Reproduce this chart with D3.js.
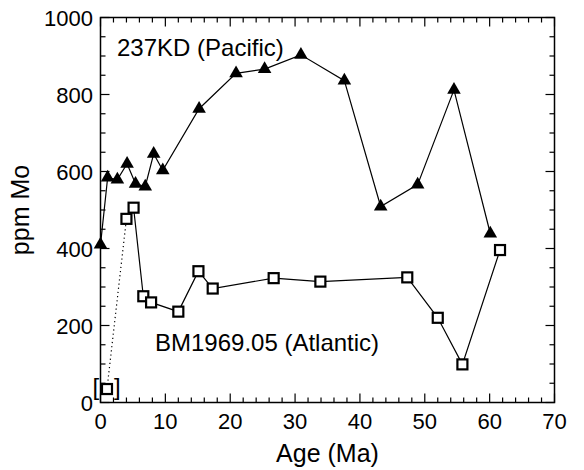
<!DOCTYPE html>
<html>
<head>
<meta charset="utf-8">
<script src="https://cdn.jsdelivr.net/npm/d3@7"></script>
<style>
  body { margin: 0; background: #fff; }
  svg text { font-family: "Liberation Sans", Arial, Helvetica, sans-serif; fill: #000; }
</style>
</head>
<body>
<svg id="chart" width="584" height="470"></svg>
<script>
// 237KD (Pacific): age (Ma), Mo (ppm)
const pacAge = [0, 1.1, 2.6, 4.1, 5.4, 6.9, 8.2, 9.6, 15.2, 20.9, 25.3, 30.9, 37.6, 43.2, 48.9, 54.5, 60.1];
const pacMo  = [410, 584, 579, 620, 568, 561, 646, 603, 763, 855, 866, 903, 836, 509, 566, 812, 439];

// BM1969.05 (Atlantic); first sample is bracketed and joined by a dotted line
const atlAge = [1.0, 4.0, 5.1, 6.6, 7.8, 12.0, 15.1, 17.3, 26.7, 33.9, 47.3, 52.0, 55.8, 61.6];
const atlMo  = [35, 477, 506, 276, 260, 236, 341, 296, 323, 314, 325, 220, 99, 396];

const xTicks = [0, 10, 20, 30, 40, 50, 60, 70];
const yTicks = [0, 200, 400, 600, 800, 1000];

const svg = d3.select("#chart");
const pL = 100.5, pR = 554.5, pT = 17.5, pB = 402.5;

const x = d3.scaleLinear().domain([0, 70]).range([pL, pR]);
const y = d3.scaleLinear().domain([0, 1000]).range([pB, pT]);

// frame
svg.append("rect")
	.attr("x", pL)
	.attr("y", pT)
	.attr("width", pR - pL)
	.attr("height", pB - pT)
	.attr("fill", "none")
	.attr("stroke", "#000")
	.attr("stroke-width", 1.5);

// ticks, inward on all four sides
const xMinor = d3.range(0, 70.01, 2);
const yMinor = d3.range(0, 1000.01, 50);
const tickLenX = d => (xTicks.includes(d) ? 9 : 5);
const tickLenY = d => (yTicks.includes(d) ? 9 : 5);

const tk = svg.append("g").attr("stroke", "#000").attr("stroke-width", 1.2);
xMinor.forEach(d => {
	tk.append("line").attr("x1", x(d)).attr("x2", x(d)).attr("y1", pB).attr("y2", pB - tickLenX(d));
	tk.append("line").attr("x1", x(d)).attr("x2", x(d)).attr("y1", pT).attr("y2", pT + tickLenX(d));
});
yMinor.forEach(d => {
	tk.append("line").attr("x1", pL).attr("x2", pL + tickLenY(d)).attr("y1", y(d)).attr("y2", y(d));
	tk.append("line").attr("x1", pR).attr("x2", pR - tickLenY(d)).attr("y1", y(d)).attr("y2", y(d));
});

// tick labels
svg.selectAll(".xl").data(xTicks).enter().append("text")
	.attr("x", d => x(d))
	.attr("y", 429)
	.attr("text-anchor", "middle")
	.attr("font-size", "22px")
	.text(d => d);
svg.selectAll(".yl").data(yTicks).enter().append("text")
	.attr("x", 93)
	.attr("y", d => y(d) + 8)
	.attr("text-anchor", "end")
	.attr("font-size", "22px")
	.text(d => d);

// axis titles
svg.append("text")
	.attr("x", (pL + pR) / 2)
	.attr("y", 462)
	.attr("text-anchor", "middle")
	.attr("font-size", "25px")
	.text("Age (Ma)");
svg.append("text")
	.attr("transform", `translate(29,${(pT + pB) / 2}) rotate(-90)`)
	.attr("text-anchor", "middle")
	.attr("font-size", "25px")
	.text("ppm Mo");

// Pacific series
const pac = pacAge.map((a, i) => [a, pacMo[i]]);
const line = d3.line().x(d => x(d[0])).y(d => y(d[1]));
svg.append("path")
	.attr("d", line(pac))
	.attr("fill", "none")
	.attr("stroke", "#000")
	.attr("stroke-width", 1.2);
const tri = d3.symbol().type(d3.symbolTriangle).size(80);
svg.selectAll(".tri").data(pac).enter().append("path")
	.attr("d", tri)
	.attr("transform", d => `translate(${x(d[0])},${y(d[1])})`)
	.attr("fill", "#000");

// Atlantic series
const atl = atlAge.map((a, i) => [a, atlMo[i]]);
svg.append("path")
	.attr("d", line(atl.slice(0, 2)))
	.attr("fill", "none")
	.attr("stroke", "#000")
	.attr("stroke-width", 1.2)
	.attr("stroke-dasharray", "1.2,3");
svg.append("path")
	.attr("d", line(atl.slice(1)))
	.attr("fill", "none")
	.attr("stroke", "#000")
	.attr("stroke-width", 1.2);
svg.selectAll(".sq").data(atl).enter().append("rect")
	.attr("x", d => x(d[0]) - 5)
	.attr("y", d => y(d[1]) - 5)
	.attr("width", 10)
	.attr("height", 10)
	.attr("fill", "#fff")
	.attr("stroke", "#000")
	.attr("stroke-width", 2.2);

// brackets round the first Atlantic sample
svg.append("text")
	.attr("x", x(atl[0][0]) - 14.5)
	.attr("y", y(atl[0][1]) + 6)
	.attr("font-size", "24px")
	.text("[");
svg.append("text")
	.attr("x", x(atl[0][0]) + 7)
	.attr("y", y(atl[0][1]) + 6)
	.attr("font-size", "24px")
	.text("]");

// series labels
svg.append("text")
	.attr("x", 117)
	.attr("y", 56)
	.attr("font-size", "24px")
	.text("237KD (Pacific)");
svg.append("text")
	.attr("x", 155)
	.attr("y", 351)
	.attr("font-size", "24px")
	.text("BM1969.05 (Atlantic)");
</script>
</body>
</html>
